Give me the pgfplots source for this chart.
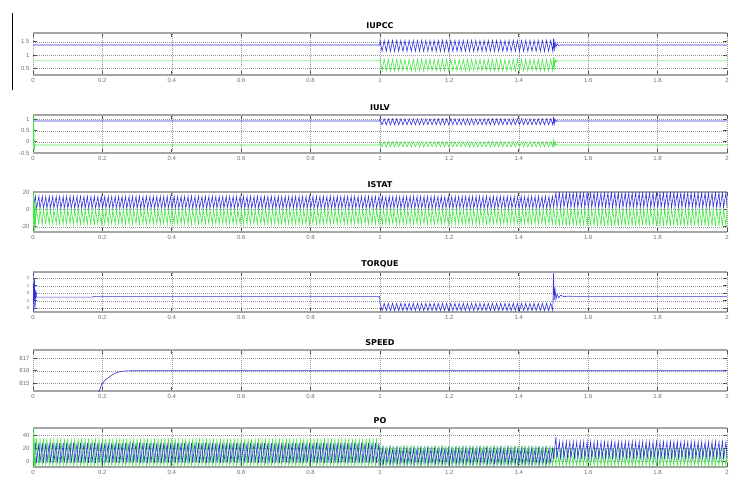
\documentclass[border=0pt]{standalone}
\usepackage{pgfplots}
\usepackage{pgfplotstable}
\pgfplotsset{compat=1.18}
\usepackage{fontspec}
\setmainfont{Liberation Sans}
\newfontfamily\titlefont{DejaVu Sans}
\definecolor{cb}{RGB}{50,50,220}
\definecolor{cg}{RGB}{70,230,70}
\definecolor{framegray}{RGB}{165,165,165}
\definecolor{gridgray}{RGB}{150,150,150}
\definecolor{tickgray}{RGB}{80,80,80}
\definecolor{labgray}{RGB}{110,110,110}
\newcommand\ticfont{\fontsize{6bp}{7bp}\selectfont}

% oscillation segment 1.0-1.5 : x, IUPCC blue, IUPCC green, IULV blue, IULV green, torque
\pgfplotstableread[row sep=\\]{
x ub ug lb lg tq\\
0 1.38 0.78 0.94 -0.14 -0.5\\
0.17 1.38 0.78 0.94 -0.14 -0.5\\
0.18 1.38 0.78 0.94 -0.14 -0.4\\
0.999 1.38 0.78 0.94 -0.14 -0.4\\
1.000 1.55 0.84 1.04 0.01 -1.33\\1.006 1.14 0.41 0.77 -0.22 -2.3\\1.012 1.55 0.84 1.04 0.01 -1.33\\1.018 1.14 0.41 0.77 -0.22 -2.3\\
1.024 1.55 0.84 1.04 0.01 -1.33\\1.030 1.14 0.41 0.77 -0.22 -2.3\\1.036 1.55 0.84 1.04 0.01 -1.33\\1.042 1.14 0.41 0.77 -0.22 -2.3\\
1.048 1.55 0.84 1.04 0.01 -1.33\\1.054 1.14 0.41 0.77 -0.22 -2.3\\1.060 1.55 0.84 1.04 0.01 -1.33\\1.066 1.14 0.41 0.77 -0.22 -2.3\\
1.072 1.55 0.84 1.04 0.01 -1.33\\1.078 1.14 0.41 0.77 -0.22 -2.3\\1.084 1.55 0.84 1.04 0.01 -1.33\\1.090 1.14 0.41 0.77 -0.22 -2.3\\
1.096 1.55 0.84 1.04 0.01 -1.33\\1.102 1.14 0.41 0.77 -0.22 -2.3\\1.108 1.55 0.84 1.04 0.01 -1.33\\1.114 1.14 0.41 0.77 -0.22 -2.3\\
1.120 1.55 0.84 1.04 0.01 -1.33\\1.126 1.14 0.41 0.77 -0.22 -2.3\\1.132 1.55 0.84 1.04 0.01 -1.33\\1.138 1.14 0.41 0.77 -0.22 -2.3\\
1.144 1.55 0.84 1.04 0.01 -1.33\\1.150 1.14 0.41 0.77 -0.22 -2.3\\1.156 1.55 0.84 1.04 0.01 -1.33\\1.162 1.14 0.41 0.77 -0.22 -2.3\\
1.168 1.55 0.84 1.04 0.01 -1.33\\1.174 1.14 0.41 0.77 -0.22 -2.3\\1.180 1.55 0.84 1.04 0.01 -1.33\\1.186 1.14 0.41 0.77 -0.22 -2.3\\
1.192 1.55 0.84 1.04 0.01 -1.33\\1.198 1.14 0.41 0.77 -0.22 -2.3\\1.204 1.55 0.84 1.04 0.01 -1.33\\1.210 1.14 0.41 0.77 -0.22 -2.3\\
1.216 1.55 0.84 1.04 0.01 -1.33\\1.222 1.14 0.41 0.77 -0.22 -2.3\\1.228 1.55 0.84 1.04 0.01 -1.33\\1.234 1.14 0.41 0.77 -0.22 -2.3\\
1.240 1.55 0.84 1.04 0.01 -1.33\\1.246 1.14 0.41 0.77 -0.22 -2.3\\1.252 1.55 0.84 1.04 0.01 -1.33\\1.258 1.14 0.41 0.77 -0.22 -2.3\\
1.264 1.55 0.84 1.04 0.01 -1.33\\1.270 1.14 0.41 0.77 -0.22 -2.3\\1.276 1.55 0.84 1.04 0.01 -1.33\\1.282 1.14 0.41 0.77 -0.22 -2.3\\
1.288 1.55 0.84 1.04 0.01 -1.33\\1.294 1.14 0.41 0.77 -0.22 -2.3\\1.300 1.55 0.84 1.04 0.01 -1.33\\1.306 1.14 0.41 0.77 -0.22 -2.3\\
1.312 1.55 0.84 1.04 0.01 -1.33\\1.318 1.14 0.41 0.77 -0.22 -2.3\\1.324 1.55 0.84 1.04 0.01 -1.33\\1.330 1.14 0.41 0.77 -0.22 -2.3\\
1.336 1.55 0.84 1.04 0.01 -1.33\\1.342 1.14 0.41 0.77 -0.22 -2.3\\1.348 1.55 0.84 1.04 0.01 -1.33\\1.354 1.14 0.41 0.77 -0.22 -2.3\\
1.360 1.55 0.84 1.04 0.01 -1.33\\1.366 1.14 0.41 0.77 -0.22 -2.3\\1.372 1.55 0.84 1.04 0.01 -1.33\\1.378 1.14 0.41 0.77 -0.22 -2.3\\
1.384 1.55 0.84 1.04 0.01 -1.33\\1.390 1.14 0.41 0.77 -0.22 -2.3\\1.396 1.55 0.84 1.04 0.01 -1.33\\1.402 1.14 0.41 0.77 -0.22 -2.3\\
1.408 1.55 0.84 1.04 0.01 -1.33\\1.414 1.14 0.41 0.77 -0.22 -2.3\\1.420 1.55 0.84 1.04 0.01 -1.33\\1.426 1.14 0.41 0.77 -0.22 -2.3\\
1.432 1.55 0.84 1.04 0.01 -1.33\\1.438 1.14 0.41 0.77 -0.22 -2.3\\1.444 1.55 0.84 1.04 0.01 -1.33\\1.450 1.14 0.41 0.77 -0.22 -2.3\\
1.456 1.55 0.84 1.04 0.01 -1.33\\1.462 1.14 0.41 0.77 -0.22 -2.3\\1.468 1.55 0.84 1.04 0.01 -1.33\\1.474 1.14 0.41 0.77 -0.22 -2.3\\
1.480 1.55 0.84 1.04 0.01 -1.33\\1.486 1.14 0.41 0.77 -0.22 -2.3\\1.492 1.55 0.84 1.04 0.01 -1.33\\1.498 1.14 0.41 0.77 -0.22 -2.3\\
1.500 1.62 0.90 1.12 0.08 2.67\\
1.502 1.15 0.45 0.80 -0.20 -0.9\\
1.504 1.50 0.86 1.02 0.00 0.8\\
1.507 1.30 0.72 0.90 -0.16 -0.8\\
1.510 1.42 0.80 0.96 -0.12 -0.1\\
1.515 1.36 0.77 0.93 -0.15 -0.6\\
1.520 1.38 0.78 0.94 -0.14 -0.25\\
1.530 1.38 0.78 0.94 -0.14 -0.45\\
1.540 1.38 0.78 0.94 -0.14 -0.38\\
1.560 1.38 0.78 0.94 -0.14 -0.4\\
2.000 1.38 0.78 0.94 -0.14 -0.4\\
}\osc

% ISTAT blue/green, PO blue/green over 0-2 s (sawtooth, 10 ms period)
\pgfplotstableread[row sep=\\]{
x sb sg pb pg\\
0.00 1 0 -2 35\\0.007 15 -17 28 -7\\0.01 1 0 -2 35\\0.017 15 -17 28 -7\\0.02 1 0 -2 35\\0.027 15 -17 28 -7\\0.03 1 0 -2 35\\0.037 15 -17 28 -7\\
0.04 1 0 -2 35\\0.047 15 -17 28 -7\\0.05 1 0 -2 35\\0.057 15 -17 28 -7\\0.06 1 0 -2 35\\0.067 15 -17 28 -7\\0.07 1 0 -2 35\\0.077 15 -17 28 -7\\
0.08 1 0 -2 35\\0.087 15 -17 28 -7\\0.09 1 0 -2 35\\0.097 15 -17 28 -7\\0.10 1 0 -2 35\\0.107 15 -17 28 -7\\0.11 1 0 -2 35\\0.117 15 -17 28 -7\\
0.12 1 0 -2 35\\0.127 15 -17 28 -7\\0.13 1 0 -2 35\\0.137 15 -17 28 -7\\0.14 1 0 -2 35\\0.147 15 -17 28 -7\\0.15 1 0 -2 35\\0.157 15 -17 28 -7\\
0.16 1 0 -2 35\\0.167 15 -17 28 -7\\0.17 1 0 -2 35\\0.177 15 -17 28 -7\\0.18 1 0 -2 35\\0.187 15 -17 28 -7\\0.19 1 0 -2 35\\0.197 15 -17 28 -7\\
0.20 1 0 -2 35\\0.207 15 -17 28 -7\\0.21 1 0 -2 35\\0.217 15 -17 28 -7\\0.22 1 0 -2 35\\0.227 15 -17 28 -7\\0.23 1 0 -2 35\\0.237 15 -17 28 -7\\
0.24 1 0 -2 35\\0.247 15 -17 28 -7\\0.25 1 0 -2 35\\0.257 15 -17 28 -7\\0.26 1 0 -2 35\\0.267 15 -17 28 -7\\0.27 1 0 -2 35\\0.277 15 -17 28 -7\\
0.28 1 0 -2 35\\0.287 15 -17 28 -7\\0.29 1 0 -2 35\\0.297 15 -17 28 -7\\0.30 1 0 -2 35\\0.307 15 -17 28 -7\\0.31 1 0 -2 35\\0.317 15 -17 28 -7\\
0.32 1 0 -2 35\\0.327 15 -17 28 -7\\0.33 1 0 -2 35\\0.337 15 -17 28 -7\\0.34 1 0 -2 35\\0.347 15 -17 28 -7\\0.35 1 0 -2 35\\0.357 15 -17 28 -7\\
0.36 1 0 -2 35\\0.367 15 -17 28 -7\\0.37 1 0 -2 35\\0.377 15 -17 28 -7\\0.38 1 0 -2 35\\0.387 15 -17 28 -7\\0.39 1 0 -2 35\\0.397 15 -17 28 -7\\
0.40 1 0 -2 35\\0.407 15 -17 28 -7\\0.41 1 0 -2 35\\0.417 15 -17 28 -7\\0.42 1 0 -2 35\\0.427 15 -17 28 -7\\0.43 1 0 -2 35\\0.437 15 -17 28 -7\\
0.44 1 0 -2 35\\0.447 15 -17 28 -7\\0.45 1 0 -2 35\\0.457 15 -17 28 -7\\0.46 1 0 -2 35\\0.467 15 -17 28 -7\\0.47 1 0 -2 35\\0.477 15 -17 28 -7\\
0.48 1 0 -2 35\\0.487 15 -17 28 -7\\0.49 1 0 -2 35\\0.497 15 -17 28 -7\\0.50 1 0 -2 35\\0.507 15 -17 28 -7\\0.51 1 0 -2 35\\0.517 15 -17 28 -7\\
0.52 1 0 -2 35\\0.527 15 -17 28 -7\\0.53 1 0 -2 35\\0.537 15 -17 28 -7\\0.54 1 0 -2 35\\0.547 15 -17 28 -7\\0.55 1 0 -2 35\\0.557 15 -17 28 -7\\
0.56 1 0 -2 35\\0.567 15 -17 28 -7\\0.57 1 0 -2 35\\0.577 15 -17 28 -7\\0.58 1 0 -2 35\\0.587 15 -17 28 -7\\0.59 1 0 -2 35\\0.597 15 -17 28 -7\\
0.60 1 0 -2 35\\0.607 15 -17 28 -7\\0.61 1 0 -2 35\\0.617 15 -17 28 -7\\0.62 1 0 -2 35\\0.627 15 -17 28 -7\\0.63 1 0 -2 35\\0.637 15 -17 28 -7\\
0.64 1 0 -2 35\\0.647 15 -17 28 -7\\0.65 1 0 -2 35\\0.657 15 -17 28 -7\\0.66 1 0 -2 35\\0.667 15 -17 28 -7\\0.67 1 0 -2 35\\0.677 15 -17 28 -7\\
0.68 1 0 -2 35\\0.687 15 -17 28 -7\\0.69 1 0 -2 35\\0.697 15 -17 28 -7\\0.70 1 0 -2 35\\0.707 15 -17 28 -7\\0.71 1 0 -2 35\\0.717 15 -17 28 -7\\
0.72 1 0 -2 35\\0.727 15 -17 28 -7\\0.73 1 0 -2 35\\0.737 15 -17 28 -7\\0.74 1 0 -2 35\\0.747 15 -17 28 -7\\0.75 1 0 -2 35\\0.757 15 -17 28 -7\\
0.76 1 0 -2 35\\0.767 15 -17 28 -7\\0.77 1 0 -2 35\\0.777 15 -17 28 -7\\0.78 1 0 -2 35\\0.787 15 -17 28 -7\\0.79 1 0 -2 35\\0.797 15 -17 28 -7\\
0.80 1 0 -2 35\\0.807 15 -17 28 -7\\0.81 1 0 -2 35\\0.817 15 -17 28 -7\\0.82 1 0 -2 35\\0.827 15 -17 28 -7\\0.83 1 0 -2 35\\0.837 15 -17 28 -7\\
0.84 1 0 -2 35\\0.847 15 -17 28 -7\\0.85 1 0 -2 35\\0.857 15 -17 28 -7\\0.86 1 0 -2 35\\0.867 15 -17 28 -7\\0.87 1 0 -2 35\\0.877 15 -17 28 -7\\
0.88 1 0 -2 35\\0.887 15 -17 28 -7\\0.89 1 0 -2 35\\0.897 15 -17 28 -7\\0.90 1 0 -2 35\\0.907 15 -17 28 -7\\0.91 1 0 -2 35\\0.917 15 -17 28 -7\\
0.92 1 0 -2 35\\0.927 15 -17 28 -7\\0.93 1 0 -2 35\\0.937 15 -17 28 -7\\0.94 1 0 -2 35\\0.947 15 -17 28 -7\\0.95 1 0 -2 35\\0.957 15 -17 28 -7\\
0.96 1 0 -2 35\\0.967 15 -17 28 -7\\0.97 1 0 -2 35\\0.977 15 -17 28 -7\\0.98 1 0 -2 35\\0.987 15 -17 28 -7\\0.99 1 0 -2 35\\0.997 15 -17 28 -7\\
1.00 1 0 -3 24\\1.007 15 -17 20 -7\\1.01 1 0 -3 24\\1.017 15 -17 20 -7\\1.02 1 0 -3 24\\1.027 15 -17 20 -7\\1.03 1 0 -3 24\\1.037 15 -17 20 -7\\
1.04 1 0 -3 24\\1.047 15 -17 20 -7\\1.05 1 0 -3 24\\1.057 15 -17 20 -7\\1.06 1 0 -3 24\\1.067 15 -17 20 -7\\1.07 1 0 -3 24\\1.077 15 -17 20 -7\\
1.08 1 0 -3 24\\1.087 15 -17 20 -7\\1.09 1 0 -3 24\\1.097 15 -17 20 -7\\1.10 1 0 -3 24\\1.107 15 -17 20 -7\\1.11 1 0 -3 24\\1.117 15 -17 20 -7\\
1.12 1 0 -3 24\\1.127 15 -17 20 -7\\1.13 1 0 -3 24\\1.137 15 -17 20 -7\\1.14 1 0 -3 24\\1.147 15 -17 20 -7\\1.15 1 0 -3 24\\1.157 15 -17 20 -7\\
1.16 1 0 -3 24\\1.167 15 -17 20 -7\\1.17 1 0 -3 24\\1.177 15 -17 20 -7\\1.18 1 0 -3 24\\1.187 15 -17 20 -7\\1.19 1 0 -3 24\\1.197 15 -17 20 -7\\
1.20 1 0 -3 24\\1.207 15 -17 20 -7\\1.21 1 0 -3 24\\1.217 15 -17 20 -7\\1.22 1 0 -3 24\\1.227 15 -17 20 -7\\1.23 1 0 -3 24\\1.237 15 -17 20 -7\\
1.24 1 0 -3 24\\1.247 15 -17 20 -7\\1.25 1 0 -3 24\\1.257 15 -17 20 -7\\1.26 1 0 -3 24\\1.267 15 -17 20 -7\\1.27 1 0 -3 24\\1.277 15 -17 20 -7\\
1.28 1 0 -3 24\\1.287 15 -17 20 -7\\1.29 1 0 -3 24\\1.297 15 -17 20 -7\\1.30 1 0 -3 24\\1.307 15 -17 20 -7\\1.31 1 0 -3 24\\1.317 15 -17 20 -7\\
1.32 1 0 -3 24\\1.327 15 -17 20 -7\\1.33 1 0 -3 24\\1.337 15 -17 20 -7\\1.34 1 0 -3 24\\1.347 15 -17 20 -7\\1.35 1 0 -3 24\\1.357 15 -17 20 -7\\
1.36 1 0 -3 24\\1.367 15 -17 20 -7\\1.37 1 0 -3 24\\1.377 15 -17 20 -7\\1.38 1 0 -3 24\\1.387 15 -17 20 -7\\1.39 1 0 -3 24\\1.397 15 -17 20 -7\\
1.40 1 0 -3 24\\1.407 15 -17 20 -7\\1.41 1 0 -3 24\\1.417 15 -17 20 -7\\1.42 1 0 -3 24\\1.427 15 -17 20 -7\\1.43 1 0 -3 24\\1.437 15 -17 20 -7\\
1.44 1 0 -3 24\\1.447 15 -17 20 -7\\1.45 1 0 -3 24\\1.457 15 -17 20 -7\\1.46 1 0 -3 24\\1.467 15 -17 20 -7\\1.47 1 0 -3 24\\1.477 15 -17 20 -7\\
1.48 1 0 -3 24\\1.487 15 -17 20 -7\\1.49 1 0 -3 24\\1.497 15 -17 20 -7\\
1.50 2 1 5 20\\1.507 19.5 -19 37 -7\\1.51 2 1 5 20\\1.517 19.5 -19 30 -7\\1.52 2 1 5 20\\1.527 19.5 -19 30 -7\\1.53 2 1 5 20\\1.537 19.5 -19 30 -7\\
1.54 2 1 5 20\\1.547 19.5 -19 30 -7\\1.55 2 1 5 20\\1.557 19.5 -19 30 -7\\1.56 2 1 5 20\\1.567 19.5 -19 30 -7\\1.57 2 1 5 20\\1.577 19.5 -19 30 -7\\
1.58 2 1 5 20\\1.587 19.5 -19 30 -7\\1.59 2 1 5 20\\1.597 19.5 -19 30 -7\\1.60 2 1 5 20\\1.607 19.5 -19 30 -7\\1.61 2 1 5 20\\1.617 19.5 -19 30 -7\\
1.62 2 1 5 20\\1.627 19.5 -19 30 -7\\1.63 2 1 5 20\\1.637 19.5 -19 30 -7\\1.64 2 1 5 20\\1.647 19.5 -19 30 -7\\1.65 2 1 5 20\\1.657 19.5 -19 30 -7\\
1.66 2 1 5 20\\1.667 19.5 -19 30 -7\\1.67 2 1 5 20\\1.677 19.5 -19 30 -7\\1.68 2 1 5 20\\1.687 19.5 -19 30 -7\\1.69 2 1 5 20\\1.697 19.5 -19 30 -7\\
1.70 2 1 5 20\\1.707 19.5 -19 30 -7\\1.71 2 1 5 20\\1.717 19.5 -19 30 -7\\1.72 2 1 5 20\\1.727 19.5 -19 30 -7\\1.73 2 1 5 20\\1.737 19.5 -19 30 -7\\
1.74 2 1 5 20\\1.747 19.5 -19 30 -7\\1.75 2 1 5 20\\1.757 19.5 -19 30 -7\\1.76 2 1 5 20\\1.767 19.5 -19 30 -7\\1.77 2 1 5 20\\1.777 19.5 -19 30 -7\\
1.78 2 1 5 20\\1.787 19.5 -19 30 -7\\1.79 2 1 5 20\\1.797 19.5 -19 30 -7\\1.80 2 1 5 20\\1.807 19.5 -19 30 -7\\1.81 2 1 5 20\\1.817 19.5 -19 30 -7\\
1.82 2 1 5 20\\1.827 19.5 -19 30 -7\\1.83 2 1 5 20\\1.837 19.5 -19 30 -7\\1.84 2 1 5 20\\1.847 19.5 -19 30 -7\\1.85 2 1 5 20\\1.857 19.5 -19 30 -7\\
1.86 2 1 5 20\\1.867 19.5 -19 30 -7\\1.87 2 1 5 20\\1.877 19.5 -19 30 -7\\1.88 2 1 5 20\\1.887 19.5 -19 30 -7\\1.89 2 1 5 20\\1.897 19.5 -19 30 -7\\
1.90 2 1 5 20\\1.907 19.5 -19 30 -7\\1.91 2 1 5 20\\1.917 19.5 -19 30 -7\\1.92 2 1 5 20\\1.927 19.5 -19 30 -7\\1.93 2 1 5 20\\1.937 19.5 -19 30 -7\\
1.94 2 1 5 20\\1.947 19.5 -19 30 -7\\1.95 2 1 5 20\\1.957 19.5 -19 30 -7\\1.96 2 1 5 20\\1.967 19.5 -19 30 -7\\1.97 2 1 5 20\\1.977 19.5 -19 30 -7\\
1.98 2 1 5 20\\1.987 19.5 -19 30 -7\\1.99 2 1 5 20\\1.997 19.5 -19 30 -7\\
2.00 2 1 5 20\\
}\sp

\pgfplotsset{
  myscope/.style={
    scale only axis, width=694bp, anchor=north west,
    xmin=0, xmax=2,
    xtick={0,0.2,0.4,0.6,0.8,1,1.2,1.4,1.6,1.8,2},
    xticklabels={0,0.2,0.4,0.6,0.8,1,1.2,1.4,1.6,1.8,2},
    separate axis lines,
    x axis line style={draw=framegray, line width=1.5bp},
    y axis line style={draw=none},
    grid=major,
    major grid style={gridgray, line width=0.5bp, dash pattern=on 0.8bp off 1.2bp},
    tick style={draw=tickgray, line width=0.8bp},
    major tick length=4bp,
    ticklabel style={font=\ticfont, text=labgray},
    every axis title/.style={at={(0.5,1)}, anchor=south, yshift=1bp,
      font=\titlefont\bfseries\fontsize{8bp}{9bp}\selectfont},
    every axis plot/.append style={line width=0.6bp, mark=none},
  },
}
\tikzset{expo/.style={anchor=south west, inner sep=1bp, font=\fontsize{5bp}{6bp}\selectfont, text=labgray}}

\begin{document}
\begin{tikzpicture}
\path[use as bounding box] (0,0) rectangle (743bp,-483bp);
\draw[black, line width=0.8bp] (12bp,-13bp) -- (12bp,-90bp);

% IUPCC
\begin{axis}[myscope, at={(33bp,-33bp)}, height=42bp,
  ymin=0.25, ymax=1.83, ytick={0.5,1,1.5}, yticklabels={0.5,1,1.5}, title={IUPCC}]
\addplot[cg] table[x=x, y=ug] \osc;
\addplot[cb] table[x=x, y=ub] \osc;
\node[expo] at (rel axis cs:0,1) {x\,10$^{5}$};
\end{axis}

% IULV
\begin{axis}[myscope, at={(33bp,-115bp)}, height=38bp,
  ymin=-0.5, ymax=1.21, ytick={-0.5,0,0.5,1}, yticklabels={-0.5,0,0.5,1}, title={IULV}]
\addplot[cg] table[x=x, y=lg] \osc;
\addplot[cb] table[x=x, y=lb] \osc;
\addplot[cg] coordinates {(0,-0.5) (0.002,1.21) (0.004,-0.3) (0.006,-0.14)};
\end{axis}

% ISTAT
\begin{axis}[myscope, at={(33bp,-192bp)}, height=40bp,
  ymin=-26, ymax=20, ytick={-20,0,20}, yticklabels={-20,0,20}, title={ISTAT}]
\addplot[cb] table[x=x, y=sb] \sp;
\addplot[cg] table[x=x, y=sg] \sp;
\addplot[cg] coordinates {(0,-26) (0.002,20) (0.004,-26) (0.006,10) (0.008,-17)};
\end{axis}

% TORQUE
\begin{axis}[myscope, at={(33bp,-272bp)}, height=40bp,
  ymin=-2.49, ymax=2.84, ytick={-2,-1,0,1,2}, yticklabels={-2,-1,0,1,2},
  yticklabel style={font=\fontsize{4.5bp}{5bp}\selectfont}, title={TORQUE}]
\addplot[cb] table[x=x, y=tq] \osc;
\addplot[cb] coordinates {(0,2.84) (0.002,-2.49) (0.004,2.0) (0.006,-2.0) (0.008,0.5) (0.01,-0.5)};
\node[expo] at (rel axis cs:0,1) {x\,10$^{5}$};
\end{axis}

% SPEED
\begin{axis}[myscope, at={(33bp,-350bp)}, height=41bp,
  ymin=814.38, ymax=817.66, ytick={815,816,817}, yticklabels={815,816,817}, title={SPEED}]
\addplot[cb] coordinates {(0.188,814.2) (0.195,814.7) (0.2,815.0) (0.21,815.3) (0.22,815.5)
  (0.23,815.7) (0.24,815.84) (0.25,815.93) (0.26,815.97) (0.28,816) (2,816)};
\end{axis}

% PO
\begin{axis}[myscope, at={(33bp,-428bp)}, height=39bp,
  ymin=-8, ymax=50.5, ytick={0,20,40}, yticklabels={0,20,40}, title={PO}]
\addplot[cg] table[x=x, y=pg] \sp;
\addplot[cb] table[x=x, y=pb] \sp;
\addplot[cg] coordinates {(0,-8) (0.002,50.5) (0.004,-8) (0.006,35)};
\end{axis}
\end{tikzpicture}
\end{document}
